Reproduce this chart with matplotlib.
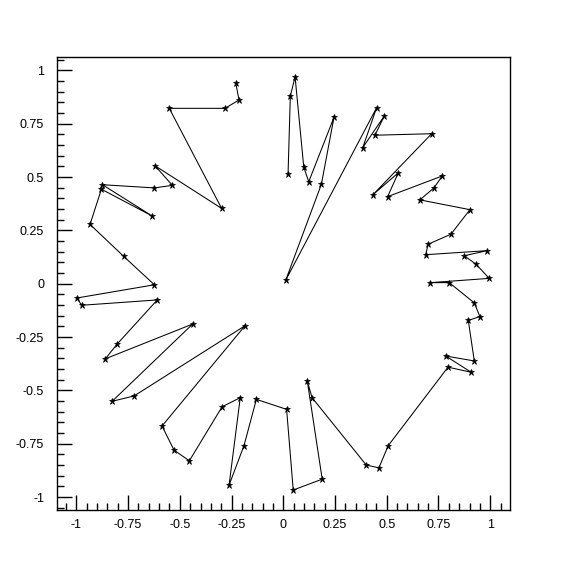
import matplotlib
matplotlib.use("Agg")
import matplotlib.pyplot as plt
import matplotlib.ticker as ticker

plt.rcParams["font.family"] = ["Liberation Sans", "DejaVu Sans"]
plt.rcParams["axes.unicode_minus"] = False

# ---------------------------------------------------------------------------
# Data: points in drawing order
# ---------------------------------------------------------------------------
x_vals = [
    0.023, 0.034, 0.057, 0.099, 0.123, 0.245, 0.184, 0.012,
    0.451, 0.384, 0.488, 0.443, 0.717, 0.432, 0.556, 0.504,
    0.768, 0.728, 0.660, 0.902, 0.810, 0.700, 0.688, 0.986,
    0.874, 0.931, 0.995, 0.710, 0.802, 0.923, 0.950, 0.894,
    0.923, 0.785, 0.908, 0.796, 0.507, 0.462, 0.401, 0.139,
    0.116, 0.188, 0.048, 0.016, -0.130, -0.190, -0.262, -0.208,
    -0.296, -0.454, -0.528, -0.586, -0.185, -0.721, -0.827, -0.438,
    -0.860, -0.803, -0.609, -0.974, -0.998, -0.623, -0.771, -0.934,
    -0.879, -0.633, -0.874, -0.623, -0.536, -0.620, -0.298, -0.551,
    -0.282, -0.214, -0.230,
]
y_vals = [
    0.514, 0.880, 0.969, 0.546, 0.478, 0.780, 0.466, 0.017,
    0.825, 0.638, 0.786, 0.696, 0.703, 0.416, 0.520, 0.408,
    0.505, 0.449, 0.393, 0.347, 0.232, 0.185, 0.136, 0.155,
    0.131, 0.092, 0.025, 0.005, 0.005, -0.090, -0.154, -0.172,
    -0.362, -0.339, -0.415, -0.391, -0.759, -0.863, -0.850, -0.534,
    -0.456, -0.916, -0.967, -0.589, -0.542, -0.759, -0.944, -0.534,
    -0.577, -0.830, -0.780, -0.667, -0.197, -0.526, -0.551, -0.189,
    -0.352, -0.283, -0.076, -0.101, -0.067, -0.005, 0.128, 0.278,
    0.443, 0.317, 0.464, 0.449, 0.461, 0.553, 0.353, 0.822,
    0.822, 0.861, 0.942,
]

tick_vals = [-1, -0.75, -0.5, -0.25, 0, 0.25, 0.5, 0.75, 1]
tick_labels = ["-1", "-0.75", "-0.5", "-0.25", "0", "0.25", "0.5", "0.75", "1"]

# ---------------------------------------------------------------------------
# Plot
# ---------------------------------------------------------------------------
fig = plt.figure(figsize=(5.67, 5.67), dpi=100)
ax = fig.add_axes([0.1, 0.1, 0.8, 0.8])

ax.plot(x_vals, y_vals, color="black", linewidth=0.75,
        marker="*", markersize=5, markerfacecolor="black",
        markeredgecolor="black", markeredgewidth=0.5)

ax.set_xlim(-1.095, 1.097)
ax.set_ylim(-1.062, 1.064)

ax.set_xticks(tick_vals)
ax.set_xticklabels(tick_labels)
ax.set_yticks(tick_vals)
ax.set_yticklabels(tick_labels)
ax.xaxis.set_minor_locator(ticker.MultipleLocator(0.05))
ax.yaxis.set_minor_locator(ticker.MultipleLocator(0.05))

ax.tick_params(which="both", direction="in", top=False, right=False,
               width=1, color="black", labelsize=9)
ax.tick_params(axis="x", which="major", length=11, pad=6)
ax.tick_params(axis="y", which="major", length=11, pad=9)
ax.tick_params(which="minor", length=5)

for sp in ax.spines.values():
    sp.set_linewidth(1)

fig.savefig("out.png", dpi=100)
